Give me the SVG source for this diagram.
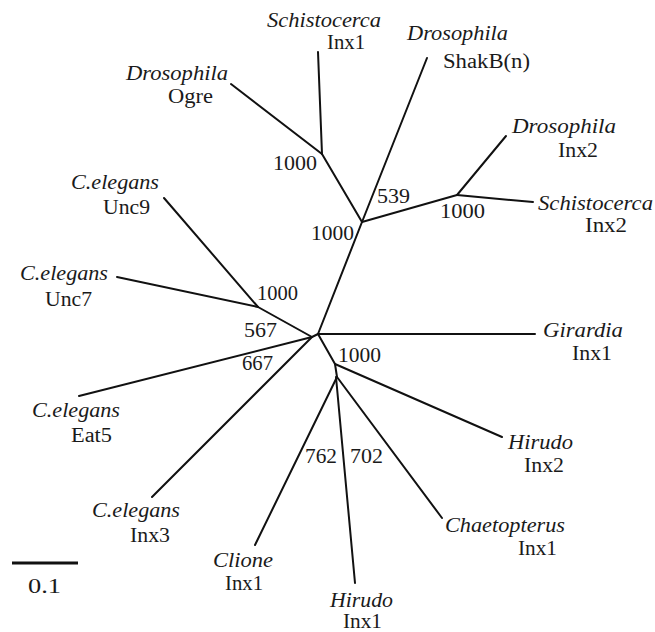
<svg xmlns="http://www.w3.org/2000/svg" width="655" height="632" viewBox="0 0 655 632">
<style>
.i{font-style:italic}
#edges line{stroke:#111;stroke-width:2;stroke-linecap:round}
</style>
<rect width="655" height="632" fill="#fff"/>
<g id="edges">
<line x1="322" y1="154" x2="231" y2="84"/>
<line x1="322" y1="154" x2="318" y2="52"/>
<line x1="322" y1="154" x2="362" y2="222"/>
<line x1="362" y1="222" x2="427" y2="58"/>
<line x1="362" y1="222" x2="457" y2="195"/>
<line x1="457" y1="195" x2="506" y2="136"/>
<line x1="457" y1="195" x2="533" y2="202"/>
<line x1="362" y1="222" x2="318" y2="334"/>
<line x1="318" y1="334" x2="535" y2="334"/>
<line x1="318" y1="334" x2="312" y2="337"/>
<line x1="312" y1="337" x2="258" y2="307"/>
<line x1="258" y1="307" x2="164" y2="198"/>
<line x1="258" y1="307" x2="117" y2="277"/>
<line x1="312" y1="337" x2="79" y2="396"/>
<line x1="312" y1="337" x2="152" y2="497"/>
<line x1="318" y1="334" x2="335" y2="364"/>
<line x1="335" y1="364" x2="502" y2="437"/>
<line x1="335" y1="364" x2="337" y2="377"/>
<line x1="337" y1="377" x2="255" y2="545"/>
<line x1="336" y1="377" x2="355" y2="583"/>
<line x1="337" y1="377" x2="442" y2="518"/>
</g>
<g id="labels" font-family="Liberation Serif, Times New Roman, serif" font-size="20" fill="#1a1a1a">
<g id="n-schisto-inx1"><text class="i" x="267" y="27" textLength="114" lengthAdjust="spacingAndGlyphs">Schistocerca</text><text x="327" y="49" textLength="38" lengthAdjust="spacingAndGlyphs">Inx1</text></g>
<g id="n-dros-ogre"><text class="i" x="126" y="80" textLength="102" lengthAdjust="spacingAndGlyphs">Drosophila</text><text x="168" y="103" textLength="45" lengthAdjust="spacingAndGlyphs">Ogre</text></g>
<g id="n-dros-shakb"><text class="i" x="407" y="40" textLength="101" lengthAdjust="spacingAndGlyphs">Drosophila</text><text x="443" y="68" textLength="87" lengthAdjust="spacingAndGlyphs">ShakB(n)</text></g>
<g id="n-dros-inx2"><text class="i" x="512" y="133" textLength="104" lengthAdjust="spacingAndGlyphs">Drosophila</text><text x="558" y="157" textLength="40" lengthAdjust="spacingAndGlyphs">Inx2</text></g>
<g id="n-schisto-inx2"><text class="i" x="538" y="210" textLength="115" lengthAdjust="spacingAndGlyphs">Schistocerca</text><text x="585" y="232" textLength="42" lengthAdjust="spacingAndGlyphs">Inx2</text></g>
<g id="n-cel-unc9"><text class="i" x="71" y="189" textLength="88" lengthAdjust="spacingAndGlyphs">C.elegans</text><text x="103" y="214" textLength="47" lengthAdjust="spacingAndGlyphs">Unc9</text></g>
<g id="n-cel-unc7"><text class="i" x="20" y="280" textLength="88" lengthAdjust="spacingAndGlyphs">C.elegans</text><text x="45" y="306" textLength="47" lengthAdjust="spacingAndGlyphs">Unc7</text></g>
<g id="n-girardia"><text class="i" x="543" y="337" textLength="80" lengthAdjust="spacingAndGlyphs">Girardia</text><text x="572" y="360" textLength="40" lengthAdjust="spacingAndGlyphs">Inx1</text></g>
<g id="n-cel-eat5"><text class="i" x="32" y="417" textLength="88" lengthAdjust="spacingAndGlyphs">C.elegans</text><text x="71" y="442" textLength="41" lengthAdjust="spacingAndGlyphs">Eat5</text></g>
<g id="n-cel-inx3"><text class="i" x="92" y="517" textLength="88" lengthAdjust="spacingAndGlyphs">C.elegans</text><text x="130" y="542" textLength="40" lengthAdjust="spacingAndGlyphs">Inx3</text></g>
<g id="n-hirudo-inx2"><text class="i" x="508" y="449" textLength="65" lengthAdjust="spacingAndGlyphs">Hirudo</text><text x="524" y="472" textLength="40" lengthAdjust="spacingAndGlyphs">Inx2</text></g>
<g id="n-chaetopterus"><text class="i" x="445" y="532" textLength="120" lengthAdjust="spacingAndGlyphs">Chaetopterus</text><text x="518" y="555" textLength="39" lengthAdjust="spacingAndGlyphs">Inx1</text></g>
<g id="n-clione"><text class="i" x="213" y="567" textLength="60" lengthAdjust="spacingAndGlyphs">Clione</text><text x="225" y="590" textLength="38" lengthAdjust="spacingAndGlyphs">Inx1</text></g>
<g id="n-hirudo-inx1"><text class="i" x="330" y="607" textLength="63" lengthAdjust="spacingAndGlyphs">Hirudo</text><text x="343" y="628" textLength="39" lengthAdjust="spacingAndGlyphs">Inx1</text></g>
<g id="bootstrap">
<text x="273" y="170" textLength="44" lengthAdjust="spacingAndGlyphs">1000</text>
<text x="377" y="203" textLength="33" lengthAdjust="spacingAndGlyphs">539</text>
<text x="440" y="218" textLength="45" lengthAdjust="spacingAndGlyphs">1000</text>
<text x="311" y="240" textLength="43" lengthAdjust="spacingAndGlyphs">1000</text>
<text x="257" y="300" textLength="41" lengthAdjust="spacingAndGlyphs">1000</text>
<text x="244" y="337" textLength="33" lengthAdjust="spacingAndGlyphs">567</text>
<text x="242" y="370" textLength="31" lengthAdjust="spacingAndGlyphs">667</text>
<text x="338" y="362" textLength="43" lengthAdjust="spacingAndGlyphs">1000</text>
<text x="305" y="463" textLength="32" lengthAdjust="spacingAndGlyphs">762</text>
<text x="350" y="463" textLength="33" lengthAdjust="spacingAndGlyphs">702</text>
</g>
<g id="scale">
<text x="28" y="593" textLength="33" lengthAdjust="spacingAndGlyphs">0.1</text>
</g>
</g>
<line x1="12" y1="563" x2="78" y2="563" stroke="#111" stroke-width="3"/>
</svg>
